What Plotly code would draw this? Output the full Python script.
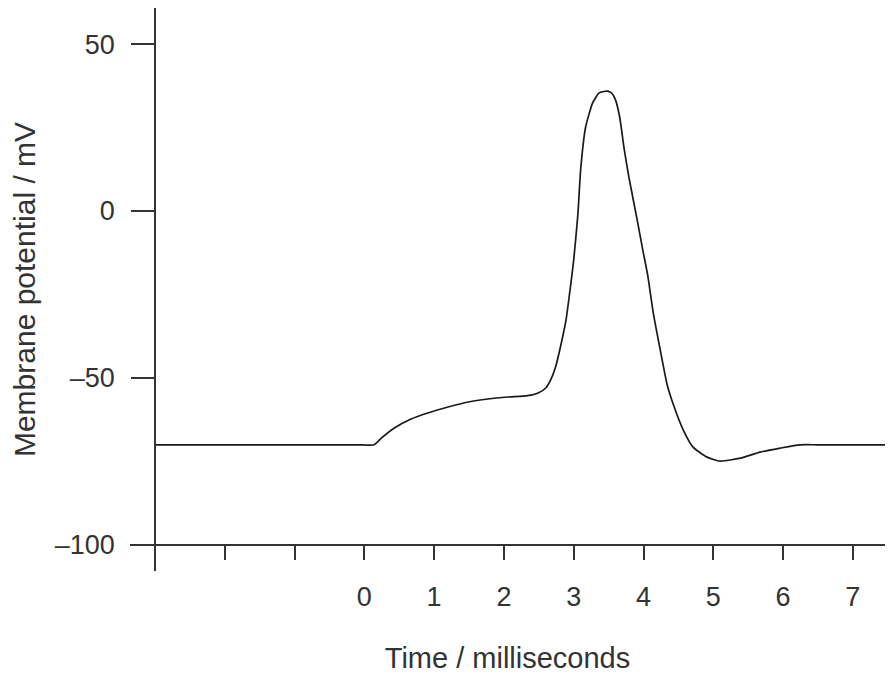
import plotly.graph_objects as go

# Data (time in ms, membrane potential in mV)
time_ms = [-3.0, -0.1, 0.14, 0.24, 0.43, 0.67, 0.91, 1.20, 1.49, 1.77, 2.06, 2.34, 2.49,
           2.60, 2.67, 2.74, 2.81, 2.89, 2.96, 3.00, 3.06, 3.10, 3.17, 3.27, 3.36,
           3.43, 3.49, 3.55, 3.60, 3.66, 3.72, 3.79, 3.91, 3.99, 4.06, 4.14, 4.24, 4.34, 4.43,
           4.57, 4.71, 4.91, 5.10, 5.39, 5.67, 5.96, 6.24, 6.5, 7.46]
potential_mv = [-70.0, -70.0, -70.0, -68.1, -65.0, -62.3, -60.5, -58.7, -57.2, -56.3, -55.7, -55.3, -54.5,
                -53.0, -50.6, -46.7, -40.7, -32.6, -21.6, -14.7, -1.0, 12.5, 25.1, 32.3, 35.3,
                35.8, 35.9, 35.2, 33.2, 28.0, 19.0, 10.2, -2.7, -11.7, -19.2, -30.5, -41.6, -52.1, -58.1,
                -65.6, -70.7, -73.7, -74.9, -74.0, -72.2, -71.0, -70.0, -70.0, -70.0]

x_tickvals = [-2, -1, 0, 1, 2, 3, 4, 5, 6, 7]
x_ticktext = ["", "", "0", "1", "2", "3", "4", "5", "6", "7"]
y_tickvals = [-100, -50, 0, 50]
y_ticktext = ["\u2013100", "\u201350", "0", "50"]

x_range = [-3.357, 7.46]
y_range = [-107.8, 60.8]
x_axis_at = -100   # y value where the time axis sits
y_axis_at = -3     # x value where the potential axis sits

font_family = "Liberation Sans, Arial, sans-serif"
text_color = "#333333"
axis_color = "#333333"

fig = go.Figure()
fig.add_trace(go.Scatter(
    x=time_ms, y=potential_mv, mode="lines",
    line=dict(color="#1a1a1a", width=1.7, shape="spline", smoothing=0.5),
    hoverinfo="skip", showlegend=False,
))

fig.update_layout(
    width=885, height=666,
    margin=dict(l=122, r=8, t=0, b=103),
    paper_bgcolor="white", plot_bgcolor="white",
    font=dict(family=font_family, color=text_color, size=27),
    xaxis=dict(
        range=x_range, showgrid=False, zeroline=False,
        showline=True, linecolor=axis_color, linewidth=1.5,
        anchor="free",
        position=(x_axis_at - y_range[0]) / (y_range[1] - y_range[0]),
        tickmode="array", tickvals=x_tickvals, ticktext=x_ticktext,
        ticks="outside", ticklen=14, tickwidth=1.5, tickcolor=axis_color,
        ticklabelstandoff=14,
        tickfont=dict(size=27, color=text_color),
        title=dict(text="Time / milliseconds", font=dict(size=29, color=text_color), standoff=36),
    ),
    yaxis=dict(
        range=y_range, showgrid=False, zeroline=False,
        showline=True, linecolor=axis_color, linewidth=1.5,
        anchor="free",
        position=(y_axis_at - x_range[0]) / (x_range[1] - x_range[0]),
        tickmode="array", tickvals=y_tickvals, ticktext=y_ticktext,
        ticks="outside", ticklen=23, tickwidth=1.5, tickcolor=axis_color,
        ticklabelstandoff=11,
        tickfont=dict(size=27, color=text_color),
        title=dict(text="Membrane potential / mV", font=dict(size=30, color=text_color), standoff=15),
    ),
)

fig.write_html("out.html")
